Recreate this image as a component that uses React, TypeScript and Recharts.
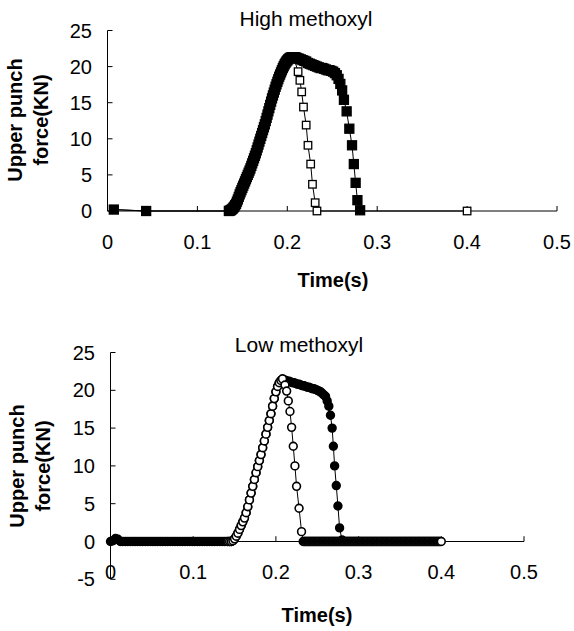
import React from 'react';
import { LineChart, Line, XAxis, YAxis, ReferenceLine } from 'recharts';

type Pt = [number, number];

const xTicks = [0, 0.1, 0.2, 0.3, 0.4, 0.5];
const highYTicks = [0, 5, 10, 15, 20, 25];
const lowYTicks = [-5, 0, 5, 10, 15, 20, 25];

// High methoxyl: time (s), upper punch force (kN)
const highStart: Pt[] = [[0.007, 0.2], [0.043, 0], [0.135, 0]];
const highRise: Pt[] = [
  [0.136, 0.05], [0.137, 0.1], [0.138, 0.2], [0.139, 0.3], [0.14, 0.45], [0.141, 0.6],
  [0.142, 0.8], [0.143, 1.0], [0.144, 1.3], [0.145, 1.6], [0.146, 1.95], [0.147, 2.3],
  [0.148, 2.6], [0.149, 2.9], [0.15, 3.2], [0.151, 3.5], [0.152, 3.8], [0.153, 4.1],
  [0.154, 4.4], [0.155, 4.7], [0.156, 5.0], [0.157, 5.3], [0.158, 5.6], [0.159, 5.9],
  [0.16, 6.25], [0.161, 6.6], [0.162, 6.95], [0.163, 7.3], [0.164, 7.65], [0.165, 8.0],
  [0.166, 8.4], [0.167, 8.8], [0.168, 9.2], [0.169, 9.6], [0.17, 10.0], [0.171, 10.4],
  [0.172, 10.8], [0.173, 11.2], [0.174, 11.6], [0.175, 12.0], [0.176, 12.45], [0.177, 12.9],
  [0.178, 13.35], [0.179, 13.8], [0.18, 14.25], [0.181, 14.7], [0.182, 15.15], [0.183, 15.6],
  [0.184, 16.0], [0.185, 16.4], [0.186, 16.8], [0.187, 17.2], [0.188, 17.55], [0.189, 17.9],
  [0.19, 18.25], [0.191, 18.6], [0.192, 18.9], [0.193, 19.2], [0.194, 19.5], [0.195, 19.8],
  [0.196, 20.05], [0.197, 20.3], [0.198, 20.5], [0.199, 20.7], [0.2, 20.85], [0.201, 21.0],
  [0.202, 21.1], [0.203, 21.2], [0.204, 21.25], [0.205, 21.3], [0.206, 21.3], [0.207, 21.3],
];
const highFilledRest: Pt[] = [
  [0.209, 21.3], [0.211, 21.2], [0.213, 21.1], [0.215, 21.0], [0.217, 20.9], [0.219, 20.8],
  [0.221, 20.7], [0.223, 20.5], [0.225, 20.4], [0.227, 20.3], [0.229, 20.2], [0.231, 20.1],
  [0.233, 20.0], [0.235, 19.9], [0.237, 19.8], [0.239, 19.8], [0.241, 19.7], [0.243, 19.6],
  [0.245, 19.5], [0.247, 19.5], [0.249, 19.4], [0.251, 19.3], [0.253, 19.1], [0.255, 18.8],
  [0.257, 18.3], [0.259, 17.6], [0.261, 16.7], [0.263, 15.4], [0.266, 13.8], [0.269, 11.4],
  [0.272, 9.1], [0.274, 6.5], [0.276, 3.9], [0.278, 1.5], [0.281, 0.1],
];
const highOpenRest: Pt[] = [
  [0.212, 19.3], [0.214, 18.1], [0.216, 16.5], [0.218, 14.4], [0.221, 11.9], [0.223, 9.1],
  [0.226, 6.5], [0.228, 3.7], [0.231, 1.15], [0.233, 0], [0.4, 0],
];

// Low methoxyl
const lowHead: Pt[] = [
  [0, 0], [0.003, 0.1], [0.006, 0.4], [0.009, 0.3], [0.012, 0], [0.015, 0], [0.018, 0],
  [0.021, 0], [0.024, 0], [0.027, 0], [0.03, 0], [0.033, 0], [0.036, 0], [0.039, 0],
  [0.042, 0], [0.045, 0], [0.048, 0], [0.051, 0], [0.054, 0], [0.057, 0], [0.06, 0],
  [0.063, 0], [0.066, 0], [0.069, 0], [0.072, 0], [0.075, 0], [0.078, 0], [0.081, 0],
  [0.084, 0], [0.087, 0], [0.09, 0], [0.093, 0], [0.096, 0], [0.099, 0], [0.102, 0],
  [0.105, 0], [0.108, 0], [0.111, 0], [0.114, 0], [0.117, 0], [0.12, 0], [0.123, 0],
  [0.126, 0], [0.129, 0], [0.132, 0], [0.135, 0], [0.138, 0], [0.141, 0], [0.144, 0],
];
const lowRise: Pt[] = [
  [0.146, 0], [0.148, 0.1], [0.15, 0.35], [0.152, 0.7], [0.154, 1.1], [0.156, 1.6],
  [0.158, 2.1], [0.16, 2.6], [0.162, 3.1], [0.164, 3.8], [0.166, 4.6], [0.168, 5.5],
  [0.17, 6.4], [0.172, 7.3], [0.174, 8.2], [0.176, 9.1], [0.178, 9.9], [0.18, 10.7],
  [0.182, 11.5], [0.184, 12.4], [0.186, 13.3], [0.188, 14.2], [0.19, 15.1], [0.192, 16.0],
  [0.194, 16.9], [0.196, 17.9], [0.198, 18.9], [0.2, 19.8], [0.202, 20.5], [0.204, 21.0],
  [0.206, 21.3], [0.208, 21.5],
];
const lowFilledRest: Pt[] = [
  [0.21, 21.4], [0.212, 21.3], [0.214, 21.2], [0.216, 21.2], [0.218, 21.1], [0.22, 21.0],
  [0.222, 21.0], [0.224, 20.9], [0.226, 20.8], [0.228, 20.8], [0.23, 20.7], [0.232, 20.6],
  [0.234, 20.6], [0.236, 20.5], [0.238, 20.4], [0.24, 20.4], [0.242, 20.3], [0.244, 20.2],
  [0.246, 20.2], [0.248, 20.1], [0.25, 20.0], [0.252, 19.9], [0.254, 19.8], [0.256, 19.6],
  [0.258, 19.4], [0.26, 19.2], [0.262, 18.6], [0.264, 17.9], [0.266, 16.7], [0.268, 15.0],
  [0.2695, 12.6], [0.271, 10.0], [0.273, 7.4], [0.275, 4.7], [0.277, 1.8], [0.28, 0.2],
];
const lowOpenStart: Pt[] = [[0.142, 0], [0.144, 0]];
const lowOpenFall: Pt[] = [
  [0.211, 20.7], [0.213, 19.9], [0.215, 18.6], [0.217, 17.2], [0.219, 15.1], [0.221, 12.6],
  [0.223, 10.0], [0.225, 7.3], [0.228, 4.4], [0.231, 1.3],
];
// readings back at zero after ejection (1 ms logging)
const lowOpenTailTimes = [
  0.233, 0.234, 0.235, 0.236, 0.237, 0.238, 0.239, 0.24, 0.241, 0.242, 0.243, 0.244,
  0.245, 0.246, 0.247, 0.248, 0.249, 0.25, 0.251, 0.252, 0.253, 0.254, 0.255, 0.256,
  0.257, 0.258, 0.259, 0.26, 0.261, 0.262, 0.263, 0.264, 0.265, 0.266, 0.267, 0.268,
  0.269, 0.27, 0.271, 0.272, 0.273, 0.274, 0.275, 0.276, 0.277, 0.278, 0.279, 0.28,
  0.281, 0.282, 0.283, 0.284, 0.285, 0.286, 0.287, 0.288, 0.289, 0.29, 0.291, 0.292,
  0.293, 0.294, 0.295, 0.296, 0.297, 0.298, 0.299, 0.3, 0.301, 0.302, 0.303, 0.304,
  0.305, 0.306, 0.307, 0.308, 0.309, 0.31, 0.311, 0.312, 0.313, 0.314, 0.315, 0.316,
  0.317, 0.318, 0.319, 0.32, 0.321, 0.322, 0.323, 0.324, 0.325, 0.326, 0.327, 0.328,
  0.329, 0.33, 0.331, 0.332, 0.333, 0.334, 0.335, 0.336, 0.337, 0.338, 0.339, 0.34,
  0.341, 0.342, 0.343, 0.344, 0.345, 0.346, 0.347, 0.348, 0.349, 0.35, 0.351, 0.352,
  0.353, 0.354, 0.355, 0.356, 0.357, 0.358, 0.359, 0.36, 0.361, 0.362, 0.363, 0.364,
  0.365, 0.366, 0.367, 0.368, 0.369, 0.37, 0.371, 0.372, 0.373, 0.374, 0.375, 0.376,
  0.377, 0.378, 0.379, 0.38, 0.381, 0.382, 0.383, 0.384, 0.385, 0.386, 0.387, 0.388,
  0.389, 0.39, 0.391, 0.392, 0.393, 0.394, 0.395, 0.396, 0.397, 0.398, 0.399, 0.4,
];

const rows = (pts: Pt[]) => pts.map(([t, f]) => ({ t, f }));

const highOpen = rows([...highStart, ...highRise, ...highOpenRest]);
const highFilled = rows([...highStart, ...highRise, ...highFilledRest]);
const lowFilled = rows([...lowHead, ...lowRise, ...lowFilledRest]);
const lowOpen = rows([
  ...lowOpenStart,
  ...lowRise,
  ...lowOpenFall,
  ...lowOpenTailTimes.map((t): Pt => [t, 0]),
]);

const FONT = '"Liberation Sans", Arial, Helvetica, sans-serif';
const tickStyle = { fill: '#000', fontSize: 20, fontFamily: FONT };

const square = (fill: string, size: number) => (p: any) => (
  <rect
    key={`sq-${p.index}`}
    x={p.cx - size / 2}
    y={p.cy - size / 2}
    width={size}
    height={size}
    fill={fill}
    stroke="#000"
    strokeWidth={1.3}
  />
);

const circle = (fill: string) => (p: any) => (
  <circle key={`ci-${p.index}`} cx={p.cx} cy={p.cy} r={3.9} fill={fill} stroke="#000" strokeWidth={1.6} />
);

const HighChart = () => (
  <LineChart width={574} height={300} margin={{ top: 30.5, right: 17, bottom: 59, left: 47.5 }}>
    <XAxis
      dataKey="t"
      type="number"
      domain={[0, 0.5]}
      ticks={xTicks}
      interval={0}
      height={30}
      tickSize={-5}
      tickMargin={28.8}
      stroke="#000"
      tick={tickStyle}
    />
    <YAxis
      type="number"
      domain={[0, 25]}
      ticks={highYTicks}
      interval={0}
      width={60}
      tickSize={-5}
      tickMargin={20.5}
      stroke="#000"
      tick={tickStyle}
    />
    <Line
      data={highOpen}
      dataKey="f"
      type="linear"
      stroke="#000"
      strokeWidth={1}
      dot={square('#fff', 7.5)}
      activeDot={false}
      isAnimationActive={false}
    />
    <Line
      data={highFilled}
      dataKey="f"
      type="linear"
      stroke="#000"
      strokeWidth={1}
      dot={square('#000', 9)}
      activeDot={false}
      isAnimationActive={false}
    />
  </LineChart>
);

const LowChart = () => (
  <LineChart width={574} height={331} margin={{ top: 52.5, right: 50, bottom: 21.7, left: 50.5 }}>
    <XAxis
      dataKey="t"
      type="number"
      domain={[0, 0.5]}
      ticks={xTicks}
      interval={0}
      height={30}
      tickSize={0}
      tickMargin={-14.5}
      tickLine={false}
      axisLine={false}
      tick={tickStyle}
    />
    <YAxis
      type="number"
      domain={[-5, 25]}
      ticks={lowYTicks}
      interval={0}
      width={60}
      tickSize={-5}
      tickMargin={20.5}
      stroke="#000"
      tick={tickStyle}
    />
    <ReferenceLine y={0} stroke="#000" strokeWidth={1.2} />
    {xTicks.slice(1).map((x) => (
      <ReferenceLine
        key={x}
        segment={[
          { x, y: 0 },
          { x, y: 0.7 },
        ]}
        stroke="#000"
        strokeWidth={1}
      />
    ))}
    <Line
      data={lowFilled}
      dataKey="f"
      type="linear"
      stroke="#000"
      strokeWidth={1}
      dot={circle('#000')}
      activeDot={false}
      isAnimationActive={false}
    />
    <Line
      data={lowOpen}
      dataKey="f"
      type="linear"
      stroke="#000"
      strokeWidth={1}
      dot={circle('#fff')}
      activeDot={false}
      isAnimationActive={false}
    />
  </LineChart>
);

export default function App() {
  return (
    <div style={{ position: 'absolute', left: 0, top: 0, width: 574, height: 631, background: '#fff' }}>
      <div style={{ position: 'absolute', left: 0, top: 0 }}>
        <HighChart />
      </div>
      <div style={{ position: 'absolute', left: 0, top: 300 }}>
        <LowChart />
      </div>
      <svg
        width={574}
        height={631}
        style={{ position: 'absolute', left: 0, top: 0, pointerEvents: 'none' }}
        fontFamily={FONT}
        fill="#000"
      >
        <text x={306} y={26} fontSize={21} textAnchor="middle">High methoxyl</text>
        <text x={333} y={286.5} fontSize={20} fontWeight="bold" textAnchor="middle">Time(s)</text>
        <text x={22} y={120} fontSize={20} fontWeight="bold" textAnchor="middle" transform="rotate(-90 22 120)">
          Upper punch
        </text>
        <text x={48} y={120} fontSize={20} fontWeight="bold" textAnchor="middle" transform="rotate(-90 48 120)">
          force(KN)
        </text>

        <text x={299} y={352} fontSize={21} textAnchor="middle">Low methoxyl</text>
        <text x={317} y={622} fontSize={20} fontWeight="bold" textAnchor="middle">Time(s)</text>
        <text x={24} y={466} fontSize={20} fontWeight="bold" textAnchor="middle" transform="rotate(-90 24 466)">
          Upper punch
        </text>
        <text x={50} y={466} fontSize={20} fontWeight="bold" textAnchor="middle" transform="rotate(-90 50 466)">
          force(KN)
        </text>
      </svg>
    </div>
  );
}
